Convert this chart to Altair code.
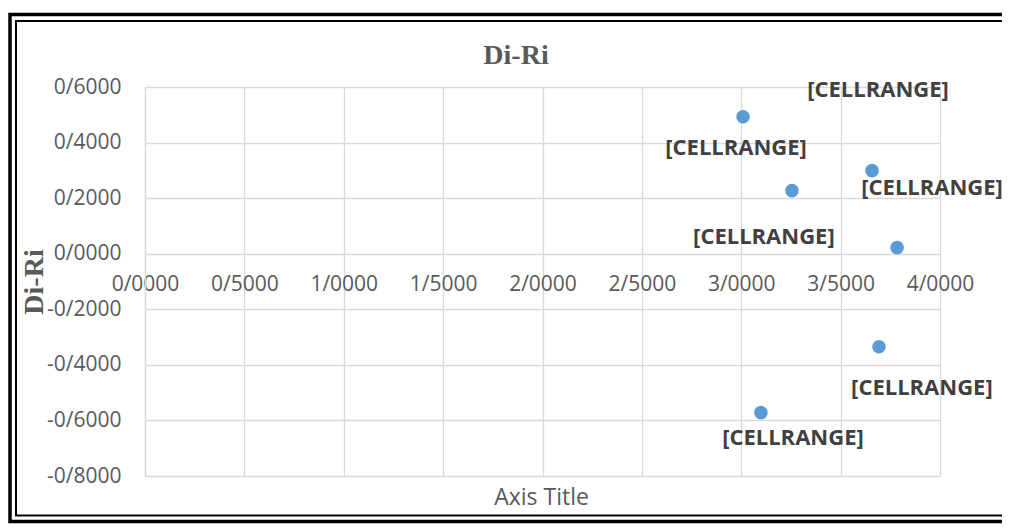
import altair as alt
import pandas as pd

# data
x_vals = [3.009, 3.255, 3.658, 3.784, 3.693, 3.099]
y_vals = [0.493, 0.227, 0.299, 0.022, -0.335, -0.572]
label_text = ["[CELLRANGE]"] * 6
label_x = [2.974, 3.688, 3.960, 3.114, 3.909, 3.260]
label_y = [0.381, 0.590, 0.237, 0.061, -0.482, -0.665]
x_ticks = [0.0, 0.5, 1.0, 1.5, 2.0, 2.5, 3.0, 3.5, 4.0]
y_ticks = [-0.8, -0.6, -0.4, -0.2, 0.0, 0.2, 0.4, 0.6]
chart_title = "Di-Ri"

pts = pd.DataFrame({"x": x_vals, "y": y_vals})
lbl = pd.DataFrame({"lx": label_x, "ly": label_y, "t": label_text})

fmt = "replace(replace(format(datum.value, '.4f'), '.', '/'), '\u2212', '-')"
GRID = "#D9D9D9"
TXT = "#595959"

xscale = alt.Scale(domain=[0, 4], nice=False, zero=False)
yscale = alt.Scale(domain=[-0.8, 0.6], nice=False, zero=False)

xaxis = alt.Axis(values=x_ticks, labelExpr=fmt, offset=-222, ticks=False, domain=False,
                 grid=True, gridColor=GRID, gridWidth=1.3,
                 labelFont="Open Sans", labelFontSize=21, labelColor=TXT,
                 labelBaseline="middle", labelPadding=30, labelOverlap=False, labelFlush=False,
                 title="Axis Title", titleFont="Open Sans", titleFontSize=23,
                 titleFontWeight="normal", titleColor=TXT, titleX=396, titleY=243,
                 titleBaseline="middle", titleAlign="center")
yaxis = alt.Axis(values=y_ticks, labelExpr=fmt, ticks=False, domain=True, domainColor=GRID,
                 domainWidth=1.3, grid=True, gridColor=GRID, gridWidth=1.3,
                 labelFont="Open Sans", labelFontSize=21, labelColor=TXT,
                 labelAlign="right", labelBaseline="middle", labelPadding=24,
                 labelOverlap=False, labelFlush=False,
                 title="Di-Ri", titleFont="Liberation Serif", titleFontSize=28,
                 titleFontWeight="bold", titleColor=TXT, titleAngle=270,
                 titleX=-111, titleY=194.5, titleBaseline="middle", titleAlign="center")

one = pd.DataFrame({"t": [chart_title]})
outer = alt.Chart(one).mark_rect(filled=False, stroke="black", strokeWidth=3.5).encode(
    x=alt.value(-135), x2=alt.value(880), y=alt.value(-72.5), y2=alt.value(434.5))
inner = alt.Chart(one).mark_rect(filled=False, stroke="black", strokeWidth=2).encode(
    x=alt.value(-129), x2=alt.value(874), y=alt.value(-66), y2=alt.value(428.5))
title = alt.Chart(one).mark_text(font="Liberation Serif", fontSize=28, fontWeight="bold",
                                 color=TXT, align="center", baseline="middle").encode(
    x=alt.value(371), y=alt.value(-31), text="t:N")

points = alt.Chart(pts).mark_circle(size=185, color="#5B9BD5", opacity=1).encode(
    x=alt.X("x:Q", scale=xscale, axis=xaxis),
    y=alt.Y("y:Q", scale=yscale, axis=yaxis),
)
labels = alt.Chart(lbl).mark_text(font="Open Sans", fontSize=22, fontWeight="bold",
                                  color="#404040", align="center", baseline="middle").encode(
    x=alt.X("lx:Q", scale=xscale),
    y=alt.Y("ly:Q", scale=yscale),
    text="t:N",
)

chart = alt.layer(outer, inner, title, points, labels).properties(
    width=795, height=389,
    autosize=alt.AutoSizeParams(type="none"),
    padding={"left": 137, "top": 79, "right": 62, "bottom": 48},
    background="white",
).configure_view(strokeOpacity=0)

chart.save("out.html", embed_options={"renderer": "svg", "actions": False})
